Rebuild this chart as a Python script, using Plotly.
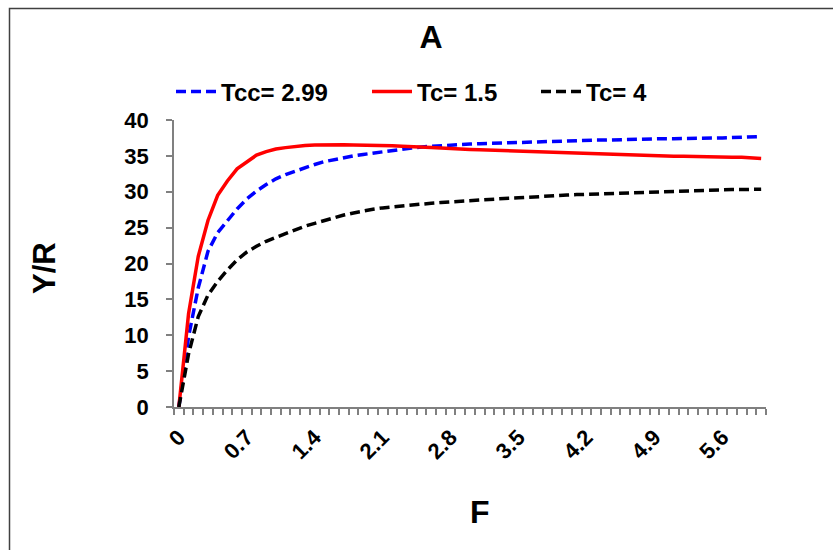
import plotly.graph_objects as go

F = [round(i * 0.1, 1) for i in range(61)]

tcc_299 = [0, 9.8, 16.6, 21.7, 24.3, 26.0, 27.6, 29.0, 30.1, 31.0,
           31.8, 32.4, 32.9, 33.4, 33.8, 34.2, 34.5, 34.8, 35.0, 35.2,
           35.4, 35.55, 35.75, 35.9, 36.1, 36.25, 36.35, 36.45, 36.55, 36.6,
           36.65, 36.7, 36.75, 36.8, 36.85, 36.9, 36.95, 37.0, 37.0, 37.05,
           37.1, 37.1, 37.15, 37.2, 37.2, 37.25, 37.3, 37.35, 37.35, 37.35,
           37.4, 37.4, 37.4, 37.45, 37.45, 37.45, 37.5, 37.55, 37.6, 37.65,
           37.7]

tc_15 = [0, 13.0, 21.0, 26.0, 29.5, 31.5, 33.2, 34.2, 35.1, 35.6,
         35.95, 36.15, 36.35, 36.45, 36.5, 36.55, 36.55, 36.55, 36.5, 36.5,
         36.45, 36.45, 36.4, 36.35, 36.25, 36.2, 36.15, 36.1, 36.0, 35.95,
         35.9, 35.85, 35.8, 35.75, 35.7, 35.65, 35.6, 35.55, 35.5, 35.5,
         35.45, 35.4, 35.4, 35.35, 35.3, 35.25, 35.15, 35.1, 35.05, 35.0,
         35.0, 34.95, 34.95, 34.9, 34.9, 34.85, 34.85, 34.8, 34.8, 34.75,
         34.65]

tc_4 = [0, 7.4, 12.6, 15.6, 17.5, 19.1, 20.5, 21.6, 22.4, 23.1,
        23.65, 24.2, 24.75, 25.2, 25.6, 26.0, 26.4, 26.75, 27.05, 27.35,
        27.55, 27.75, 27.9, 28.05, 28.2, 28.3, 28.4, 28.5, 28.6, 28.7,
        28.8, 28.85, 28.95, 29.0, 29.1, 29.15, 29.25, 29.3, 29.4, 29.45,
        29.55, 29.6, 29.65, 29.7, 29.75, 29.8, 29.85, 29.9, 29.95, 30.0,
        30.05, 30.1, 30.1, 30.15, 30.2, 30.2, 30.25, 30.3, 30.3, 30.35,
        30.35]

x_tick_labels = ["0", "0.7", "1.4", "2.1", "2.8", "3.5", "4.2", "4.9", "5.6"]
x_tick_vals = [float(t) for t in x_tick_labels]
y_ticks = [0, 5, 10, 15, 20, 25, 30, 35, 40]

FONT = "Liberation Sans, Arial, sans-serif"
step = 0.1
boundaries = [round(v - step / 2, 3) for v in F] + [round(F[-1] + step / 2, 3)]

# plot area in pixels
L, R, T, B = 174, 766, 120, 407
W, H = R - L, B - T


def px(x):
    return (x - L) / W


def py(y):
    return (B - y) / H


fig = go.Figure()
fig.add_trace(go.Scatter(x=F, y=tcc_299, mode="lines", name="<b>Tcc= 2.99</b>",
                         legend="legend",
                         line=dict(color="#0000FF", width=3.5, dash="10px,5px")))
fig.add_trace(go.Scatter(x=F, y=tc_15, mode="lines", name="<b>Tc= 1.5</b>",
                         legend="legend2",
                         line=dict(color="#FF0000", width=3.5)))
fig.add_trace(go.Scatter(x=F, y=tc_4, mode="lines", name="<b>Tc= 4</b>",
                         legend="legend3",
                         line=dict(color="#000000", width=3.5, dash="10px,5px")))

leg_common = dict(orientation="h", xanchor="left", y=py(92), yanchor="middle",
                  font=dict(size=24, family=FONT, color="black"),
                  bgcolor="rgba(0,0,0,0)", itemwidth=40)

fig.update_layout(
    width=833, height=550,
    margin=dict(l=L, r=833 - R, t=T, b=550 - B),
    paper_bgcolor="white", plot_bgcolor="white",
    font=dict(family=FONT, color="black"),
    title=dict(text="<b>A</b>", x=431 / 833, xanchor="center",
               y=1 - 37 / 550, yanchor="middle",
               font=dict(size=32, family=FONT, color="black")),
    showlegend=True,
    legend=dict(x=px(171), **leg_common),
    legend2=dict(x=px(367), **leg_common),
    legend3=dict(x=px(536), **leg_common),
    xaxis=dict(range=[boundaries[0], boundaries[-1]], showgrid=False, zeroline=False,
               showline=True, linecolor="#808080", linewidth=1.5,
               tickmode="array", tickvals=x_tick_vals, ticktext=x_tick_labels,
               ticks="", tickangle=-45, ticklabelstandoff=7,
               tickfont=dict(size=22, family=FONT, color="black", weight="bold"),
               minor=dict(tickmode="array", tickvals=boundaries, ticks="outside",
                          ticklen=6, tickwidth=1.5, tickcolor="#808080", showgrid=False)),
    yaxis=dict(range=[0, 40], showgrid=False, zeroline=False,
               showline=True, linecolor="#808080", linewidth=1.5,
               tickmode="array", tickvals=y_ticks, ticks="outside", ticklen=6,
               tickwidth=1.5, tickcolor="#808080", ticklabelstandoff=13,
               tickfont=dict(size=22, family=FONT, color="black", weight="bold")),
    annotations=[
        dict(text="<b>F</b>", xref="paper", yref="paper",
             x=px(480), y=py(512), xanchor="center", yanchor="middle",
             showarrow=False, font=dict(size=32, family=FONT, color="black")),
        dict(text="<b>Y/R</b>", xref="paper", yref="paper",
             x=px(44), y=py(268), xanchor="center", yanchor="middle",
             textangle=-90, showarrow=False, font=dict(size=31, family=FONT, color="black")),
    ],
    shapes=[dict(type="rect", xref="paper", yref="paper",
                 x0=px(9.5), y0=-1.0, x1=2.0, y1=py(8.5),
                 line=dict(color="#404040", width=1.5), fillcolor="rgba(0,0,0,0)",
                 layer="below")],
)

fig.write_html("out.html", post_script="document.body.style.margin='0';",
               config={"displayModeBar": False})
